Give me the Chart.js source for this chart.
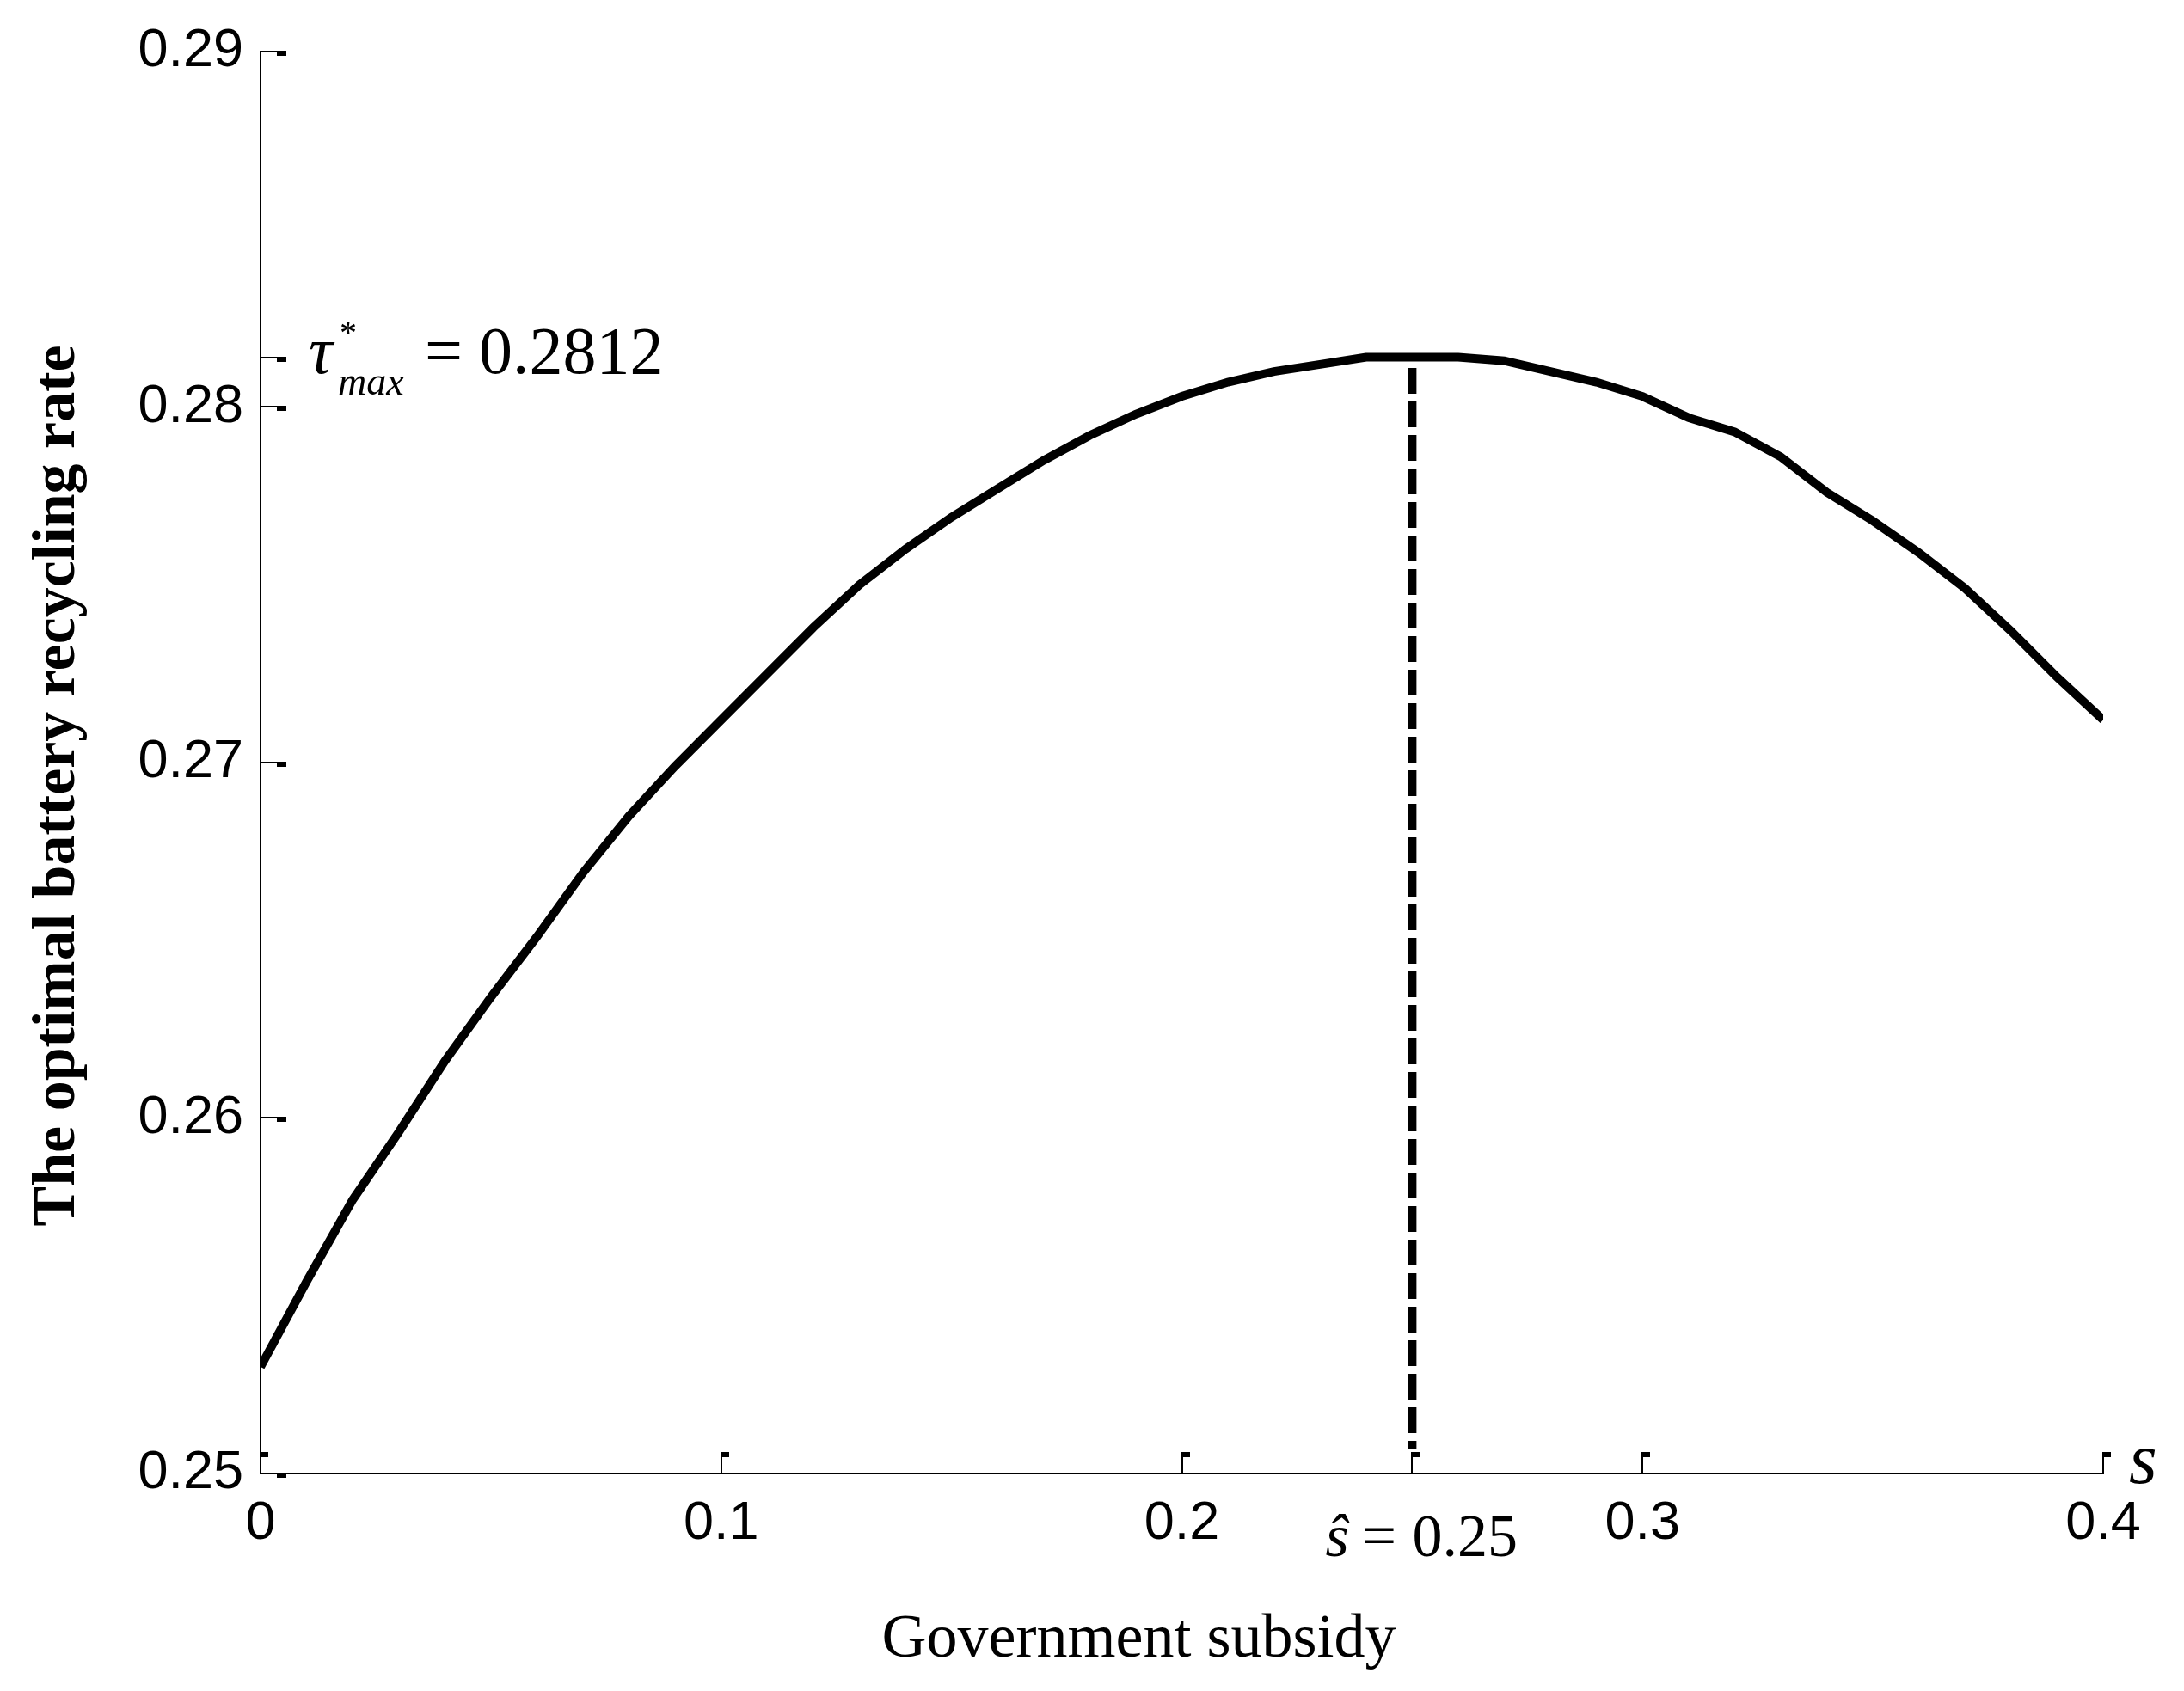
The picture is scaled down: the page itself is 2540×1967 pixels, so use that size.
<!DOCTYPE html>
<html>
<head>
<meta charset="utf-8">
<title>Optimal battery recycling rate vs government subsidy</title>
<script src="https://cdn.jsdelivr.net/npm/chart.js@4/dist/chart.umd.min.js"></script>
<style>
    html, body { margin: 0; padding: 0; background: #fff; }
    #wrap { width: 2540px; height: 1967px; position: relative; }
</style>
</head>
<body>
<div id="wrap"><canvas id="rateChart"></canvas></div>
<script>
// --- data ---
const subsidy = [0.00, 0.01, 0.02, 0.03, 0.04, 0.05, 0.06, 0.07, 0.08, 0.09,
                 0.10, 0.11, 0.12, 0.13, 0.14, 0.15, 0.16, 0.17, 0.18, 0.19,
                 0.20, 0.21, 0.22, 0.23, 0.24, 0.25, 0.26, 0.27, 0.28, 0.29,
                 0.30, 0.31, 0.32, 0.33, 0.34, 0.35, 0.36, 0.37, 0.38, 0.39, 0.40];
const recyclingRate = [0.2530, 0.2554, 0.2577, 0.2596, 0.2616, 0.2634, 0.2651, 0.2669, 0.2685, 0.2699,
                       0.2712, 0.2725, 0.2738, 0.2750, 0.2760, 0.2769, 0.2777, 0.2785, 0.2792, 0.2798,
                       0.2803, 0.2807, 0.2810, 0.2812, 0.2814, 0.2814, 0.2814, 0.2813, 0.2810, 0.2807,
                       0.2803, 0.2797, 0.2793, 0.2786, 0.2776, 0.2768, 0.2759, 0.2749, 0.2737, 0.2724, 0.2712];

// dashed marker at the optimal subsidy
const hatLineX = [0.25, 0.25];
const hatLineY = [0.2811, 0.2507];

const xTickValues = [0, 0.1, 0.2, 0.3, 0.4];
const yTickValues = [0.25, 0.26, 0.27, 0.28, 0.29];

const tauMaxLevel = 0.2814;   // where the extra tick sits on the axis
const tauMaxLabel = '0.2812';
const sHat = 0.25;
const sHatLabel = '0.25';

// --- inward ticks and the math annotations ---
const annotatePlugin = {
    id: 'annotate',
    afterDatasetsDraw(chart) {
        const { ctx, chartArea, scales: { x, y } } = chart;
        const left = chartArea.left, bottom = chartArea.bottom;
        ctx.save();
        ctx.fillStyle = '#000';

        // y ticks point right into the plot
        const yTick = v => {
            const py = Math.round(y.getPixelForValue(v));
            ctx.fillRect(left, py - 1, 19, 2);
            ctx.fillRect(left + 19, py - 1, 11, 6);
        };
        yTickValues.forEach(yTick);
        yTick(tauMaxLevel);

        // x ticks point up
        const xTick = v => {
            const px = Math.round(x.getPixelForValue(v));
            ctx.fillRect(px - 1, bottom - 19, 2, 19);
            ctx.fillRect(px - 1, bottom - 25, 10, 6);
        };
        xTickValues.forEach(xTick);
        xTick(sHat);

        ctx.textAlign = 'left';
        ctx.textBaseline = 'alphabetic';

        // tau*_max = 0.2812
        const ty = y.getPixelForValue(tauMaxLevel);
        ctx.font = 'italic 78px "Liberation Serif"';
        ctx.fillText('\u03C4', left + 56, ty + 18);
        ctx.font = '40px "Liberation Serif"';
        ctx.fillText('*', left + 92, ty - 16);
        ctx.font = 'italic 46px "Liberation Serif"';
        ctx.fillText('max', left + 90, ty + 43);
        ctx.font = '78px "Liberation Serif"';
        ctx.fillText('=', left + 191, ty + 18);
        ctx.fillText(tauMaxLabel, left + 254, ty + 18);

        // s-hat = 0.25 under the axis
        const xs = x.getPixelForValue(sHat);
        ctx.font = 'italic 70px "Liberation Serif"';
        ctx.fillText('\u015D', xs - 101, bottom + 96);
        ctx.font = '70px "Liberation Serif"';
        ctx.fillText('=', xs - 58, bottom + 96);
        ctx.fillText(sHatLabel, xs, bottom + 96);

        // axis variable at the right end
        ctx.font = 'italic 84px "Liberation Serif"';
        ctx.fillText('s', chartArea.right + 30, bottom + 11);

        // axis titles
        ctx.font = '72px "Liberation Serif"';
        ctx.textAlign = 'center';
        ctx.fillText('Government subsidy', (chartArea.left + chartArea.right) / 2 - 50, bottom + 213);

        ctx.translate(86, (chartArea.top + chartArea.bottom) / 2 + 27);
        ctx.rotate(-Math.PI / 2);
        ctx.font = 'bold 70px "Liberation Serif"';
        ctx.fillText('The optimal battery recycling rate', 0, 0);
        ctx.restore();
    }
};

document.addEventListener('DOMContentLoaded', function () {
    const ctx = document.getElementById('rateChart').getContext('2d');

    const tickFont = { family: 'Liberation Sans', size: 63 };

    new Chart(ctx, {
        type: 'line',
        data: {
            datasets: [{
                label: 'Optimal recycling rate',
                data: subsidy.map((s, i) => ({ x: s, y: recyclingRate[i] })),
                borderColor: '#000',
                borderWidth: 10,
                pointRadius: 0,
                tension: 0,
                fill: false,
                clip: 0
            }, {
                label: 's hat',
                data: hatLineX.map((s, i) => ({ x: s, y: hatLineY[i] })),
                borderColor: '#000',
                borderWidth: 10,
                borderDash: [30, 9],
                pointRadius: 0,
                fill: false
            }]
        },
        options: {
            responsive: true,
            maintainAspectRatio: false,
            devicePixelRatio: 1,
            animation: false,
            layout: { padding: { top: 60, right: 94, left: 0, bottom: 0 } },
            plugins: {
                legend: { display: false },
                tooltip: { enabled: false }
            },
            scales: {
                x: {
                    type: 'linear',
                    min: 0,
                    max: 0.4,
                    afterFit: s => { s.height = 253; },
                    afterBuildTicks: s => { s.ticks = xTickValues.map(v => ({ value: v })); },
                    grid: { display: false, drawTicks: false },
                    border: { display: true, color: '#000', width: 2 },
                    ticks: {
                        padding: 21,
                        color: '#000',
                        font: tickFont,
                        autoSkip: false,
                        maxRotation: 0,
                        callback: v => String(+v.toFixed(2))
                    }
                },
                y: {
                    type: 'linear',
                    min: 0.25,
                    max: 0.29,
                    afterFit: s => { s.width = 303; },
                    afterBuildTicks: s => { s.ticks = yTickValues.map(v => ({ value: v })); },
                    grid: { display: false, drawTicks: false },
                    border: { display: true, color: '#000', width: 2 },
                    ticks: {
                        padding: 20,
                        color: '#000',
                        font: tickFont,
                        callback: v => v.toFixed(2)
                    }
                }
            }
        },
        plugins: [annotatePlugin]
    });
});
</script>
</body>
</html>
